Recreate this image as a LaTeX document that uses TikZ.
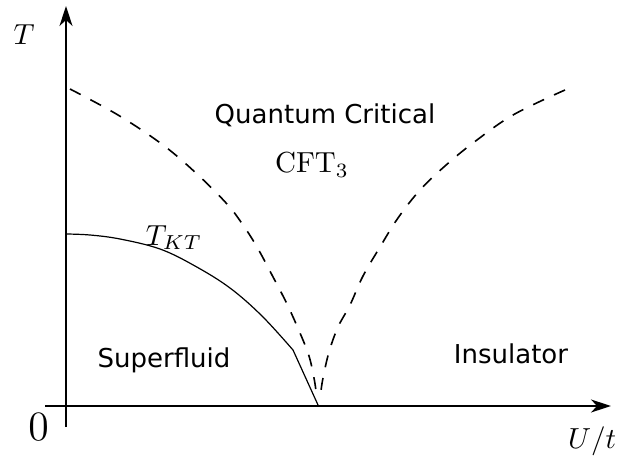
\documentclass[tikz,border=0pt]{standalone}
\usepackage{graphicx}
\usepackage{fontspec}
\newfontfamily\labelfont{DejaVu Sans}
\usetikzlibrary{arrows.meta}
\newcommand{\scaledmath}[1]{\scalebox{2.9}{$#1$}}
\tikzset{
  axis/.style={line width=1.6pt, -{Stealth[length=20pt,width=13pt,inset=6pt]}},
  phase/.style={font=\labelfont\fontsize{26}{30}\selectfont, anchor=base, inner sep=0pt},
  mlabel/.style={anchor=base, inner sep=0pt},
  crossover/.style={line width=1.6pt, dash pattern=on 12pt off 11pt},
  ktline/.style={line width=1.2pt}
}
\begin{document}
\begin{tikzpicture}[x=1pt,y=-1pt]
\useasboundingbox (0,0) rectangle (618,457);
% axes
\coordinate (ybot) at (66,427);
\coordinate (ytop) at (66,6);
\coordinate (xleft) at (45,406);
\coordinate (xright) at (611,406);
\draw[axis] (ybot) -- (ytop);
\draw[axis] (xleft) -- (xright);
% labels
\node[mlabel] (tl) at (24,45) {\scaledmath{T}};
\node[mlabel] (zero) at (38.5,440) {\scalebox{2.9}{\Large$0$}};
\node[mlabel] (ut) at (592,448) {\scaledmath{U/t}};
\node[phase] (qc) at (325,124) {Quantum Critical};
\node[mlabel] (cft) at (312,173) {\scaledmath{\mathrm{CFT}_3}};
\node[mlabel] (tkt) at (174,245) {\scaledmath{T_{KT}}};
\node[phase] (sf) at (164,367) {Superfluid};
\node[phase] (ins) at (511,363) {Insulator};
% KT line
\coordinate (kt0) at (66,234);
\coordinate (ktk) at (293,350);
\coordinate (qcp) at (318,405);
\draw[ktline] plot[smooth, tension=0.6] coordinates {(kt0) (90,235) (120,239) (160,249) (195,266) (230,288) (262,316) (ktk)} -- (qcp);
% crossover lines
\draw[crossover] plot[smooth, tension=0.6] coordinates {(70,89) (118,115) (163,145) (197,174) (227,204) (243,225) (257,247) (272,275) (287,304) (300,333) (309,356) (314,378) (316,391)};
\draw[crossover] plot[smooth, tension=0.6] coordinates {(565,90) (513,115) (473,143) (445,166) (420,190) (398,218) (380,247) (363,276) (350,305) (338,327) (329,352) (323,378) (321,391)};
\end{tikzpicture}
\end{document}
